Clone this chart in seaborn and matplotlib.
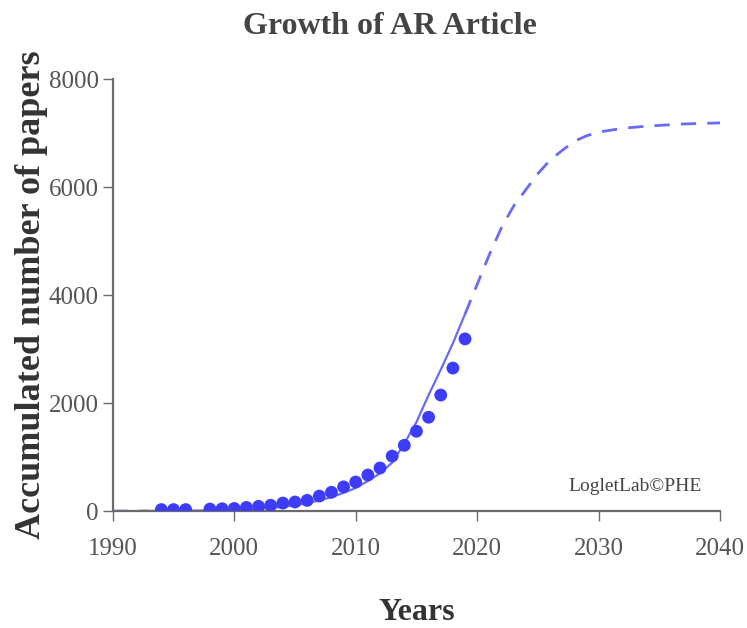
import seaborn as sb
import matplotlib.pyplot as plt
import pandas

# observed accumulated papers (dots)
obs_years = [1994, 1995, 1996, 1998, 1999, 2000, 2001, 2002, 2003, 2004, 2005,
             2006, 2007, 2008, 2009, 2010, 2011, 2012, 2013, 2014, 2015, 2016,
             2017, 2018, 2019]
obs_papers = [30, 30, 30, 40, 45, 50, 70, 90, 110, 150, 170, 200, 280, 350,
              450, 540, 670, 800, 1020, 1220, 1480, 1740, 2150, 2650, 3190]

# fitted logistic curve
fit_years_pre = [1990, 1991, 1992, 1993]
fit_pre = [1, 2, 3, 4]
fit_years = [1993, 1995, 1997, 2000, 2002, 2004, 2005, 2006, 2007, 2008, 2009,
             2010, 2011, 2012, 2013, 2014, 2015, 2016, 2017, 2018, 2019]
fit_in = [4, 6, 12, 24, 45, 80, 110, 150, 200, 260, 340, 430, 560, 700, 900,
          1250, 1650, 2150, 2620, 3110, 3650]
fit_years_post = [2019, 2020, 2021, 2022, 2023, 2024, 2025, 2026, 2027, 2028,
                  2029, 2030, 2032, 2034, 2037, 2040]
fit_post = [3650, 4200, 4750, 5250, 5650, 5950, 6250, 6500, 6680, 6850, 6950,
            7020, 7090, 7130, 7170, 7190]

GRAY = "#6b6b6b"
DOT = "#3c3cfa"
LINE = "#6a6af5"

sb.set_style("white")
plt.rcParams["font.family"] = ["Liberation Serif", "DejaVu Serif"]

fig = plt.figure(figsize=(7.47, 6.28), dpi=100)
ax = fig.add_axes([0.151, 0.186, 0.813, 0.688])

df_obs = pandas.DataFrame({"Years": obs_years, "Papers": obs_papers})
df_pre = pandas.DataFrame({"Years": fit_years_pre, "Papers": fit_pre})
df_in = pandas.DataFrame({"Years": fit_years, "Papers": fit_in})
df_post = pandas.DataFrame({"Years": fit_years_post, "Papers": fit_post})

sb.lineplot(df_pre, x="Years", y="Papers", ax=ax, color=LINE, linewidth=2,
            linestyle=(0, (5.5, 4)))
sb.lineplot(df_in, x="Years", y="Papers", ax=ax, color=LINE, linewidth=1.6)
sb.lineplot(df_post, x="Years", y="Papers", ax=ax, color=LINE, linewidth=2,
            linestyle=(0, (5.5, 4)))
sb.scatterplot(df_obs, x="Years", y="Papers", ax=ax, color=DOT, s=85,
               edgecolor="none", zorder=3)

ax.set_xlim(1990, 2040)
ax.set_ylim(0, 8000)
ax.set_xticks([1990, 2000, 2010, 2020, 2030, 2040])
ax.set_yticks([0, 2000, 4000, 6000, 8000])

for side in ["top", "right"]:
    ax.spines[side].set_visible(False)
for side in ["left", "bottom"]:
    ax.spines[side].set_color(GRAY)
    ax.spines[side].set_linewidth(1.6)

ax.tick_params(axis="both", direction="out", length=7, width=1.0,
               color=GRAY, labelcolor="#555555", labelsize=18,
               bottom=True, left=True)
ax.tick_params(axis="x", pad=12)
ax.tick_params(axis="y", pad=3)

fig.text(390 / 747, 1 - 27 / 628, "Growth of AR Article", fontsize=23,
         weight="bold", color="#444444", ha="center", va="center")
ax.set_xlabel("Years", fontsize=23, weight="bold", color="#333333",
              labelpad=28)
ax.set_ylabel("Accumulated number of papers", fontsize=26, weight="bold",
              color="#333333", labelpad=1)

ax.text(0.97, 0.056, "LogletLab©PHE", transform=ax.transAxes, ha="right",
        va="center", fontsize=14, color="#444444")

plt.savefig("out.png", dpi=100)
